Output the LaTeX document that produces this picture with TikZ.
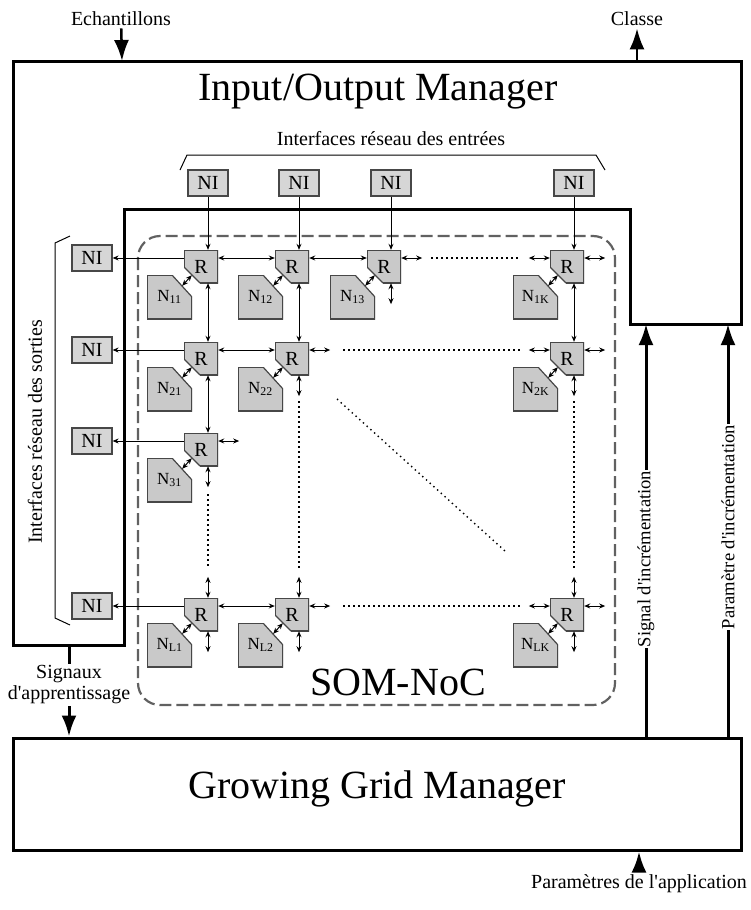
\documentclass[tikz,border=0pt]{standalone}
\usepackage{fontspec}
\setmainfont{Liberation Serif}
\usetikzlibrary{arrows.meta}

\definecolor{routergray}{gray}{0.79}
\definecolor{nigray}{gray}{0.84}
\definecolor{edgegray}{gray}{0.28}
\definecolor{dashgray}{gray}{0.38}

\newcommand{\bigfont}{\fontsize{40}{44}\selectfont}
\newcommand{\labfont}{\fontsize{20}{21}\selectfont}
\newcommand{\vlabfont}{\fontsize{18.6}{20}\selectfont}

\begin{document}
\begin{tikzpicture}[x=1pt, y=-1pt, >={Stealth[length=6pt,width=5pt]},
  ni/.style={draw=edgegray, fill=nigray, line width=1.2pt, minimum width=40pt, minimum height=26pt, inner sep=0pt, font=\fontsize{20}{20}\selectfont},
  router/.style={rectangle, fill=white, minimum width=34pt, minimum height=33pt, inner sep=0pt, font=\fontsize{20}{20}\selectfont,
    path picture={
      \fill[routergray] (path picture bounding box.north west) -- (path picture bounding box.north east) -- (path picture bounding box.south east) -- ([xshift=16pt]path picture bounding box.south west) -- ([yshift=16pt]path picture bounding box.south west) -- cycle;
      \draw[edgegray, line width=2.4pt] ([yshift=16pt]path picture bounding box.south west) -- (path picture bounding box.north west) -- (path picture bounding box.north east) -- (path picture bounding box.south east) -- ([xshift=16pt]path picture bounding box.south west);
      \draw[edgegray, line width=1.2pt] ([xshift=16pt]path picture bounding box.south west) -- ([yshift=16pt]path picture bounding box.south west);}},
  neuron/.style={rectangle, fill=white, minimum width=45pt, minimum height=44pt, inner sep=0pt, font=\fontsize{17}{17}\selectfont,
    path picture={
      \fill[routergray] (path picture bounding box.north west) -- ([xshift=-20pt]path picture bounding box.north east) -- ([yshift=-22pt]path picture bounding box.north east) -- (path picture bounding box.south east) -- (path picture bounding box.south west) -- cycle;
      \draw[edgegray, line width=2.4pt] ([xshift=-20pt]path picture bounding box.north east) -- (path picture bounding box.north west) -- (path picture bounding box.south west) -- (path picture bounding box.south east) -- ([yshift=-22pt]path picture bounding box.north east);
      \draw[edgegray, line width=1.2pt] ([xshift=-20pt]path picture bounding box.north east) -- ([yshift=-22pt]path picture bounding box.north east);}},
  link/.style={<->, line width=1pt},
  feed/.style={->, line width=1pt},
  ellip/.style={line width=1.4pt, dash pattern=on 1.4pt off 3.6pt},
  heavy/.style={line width=3pt},
  bigarrow/.style={-{Latex[length=21pt,width=15pt]}, line width=3pt},
  lh/.style={yshift=8.5pt},
  lv/.style={xshift=7pt},
  rcut/.style={xshift=8pt, yshift=8pt},
  ncut/.style={xshift=-10pt, yshift=-11pt}]
\useasboundingbox (0,0) rectangle (750,910);

% Input/Output Manager
\draw[heavy] (13,61) -- (741,61) -- (741,324) -- (630,324) -- (630,209) -- (124,209) -- (124,645) -- (13,645) -- cycle;
\node[font=\bigfont, anchor=base] (iotitle) at (378,100) {Input/Output Manager};
\node[font=\labfont, anchor=base] (inlabel) at (391,145) {Interfaces réseau des entrées};
\draw[line width=1pt] (180,170) -- (187,155) -- (596,155) -- (605,170);
\node[font=\labfont, rotate=90] (outlabel) at (35,432) {Interfaces réseau des sorties};
\draw[line width=1pt] (70,236) -- (55,243) -- (55,618) -- (70,625);

% SOM-NoC
\draw[dashgray, line width=2.2pt, dash pattern=on 12pt off 5pt, rounded corners=22pt] (138,236) rectangle (615,705);
\node[font=\bigfont, anchor=base] (noclabel) at (398,695) {SOM-NoC};

% network interfaces
\node[ni] (nii1) at (208,183) {NI};
\node[ni] (nii2) at (299,183) {NI};
\node[ni] (nii3) at (391,183) {NI};
\node[ni] (niik) at (574,183) {NI};
\node[ni] (nio1) at (92,258) {NI};
\node[ni] (nio2) at (92,350) {NI};
\node[ni] (nio3) at (92,441) {NI};
\node[ni] (niol) at (92,606) {NI};

% routers
\node[router] (r11) at (201,266.5) {R};
\node[router] (r12) at (292,266.5) {R};
\node[router] (r13) at (384,266.5) {R};
\node[router] (r1k) at (567,266.5) {R};
\node[router] (r21) at (201,358.5) {R};
\node[router] (r22) at (292,358.5) {R};
\node[router] (r2k) at (567,358.5) {R};
\node[router] (r31) at (201,449.5) {R};
\node[router] (rl1) at (201,614.5) {R};
\node[router] (rl2) at (292,614.5) {R};
\node[router] (rlk) at (567,614.5) {R};

% neurons
\node[neuron] (n11) at (169.5,297) {N\textsubscript{11}};
\node[neuron] (n12) at (260.5,297) {N\textsubscript{12}};
\node[neuron] (n13) at (352.5,297) {N\textsubscript{13}};
\node[neuron] (n1k) at (535.5,297) {N\textsubscript{1K}};
\node[neuron] (n21) at (169.5,389) {N\textsubscript{21}};
\node[neuron] (n22) at (260.5,389) {N\textsubscript{22}};
\node[neuron] (n2k) at (535.5,389) {N\textsubscript{2K}};
\node[neuron] (n31) at (169.5,480) {N\textsubscript{31}};
\node[neuron] (nl1) at (169.5,645) {N\textsubscript{L1}};
\node[neuron] (nl2) at (260.5,645) {N\textsubscript{L2}};
\node[neuron] (nlk) at (535.5,645) {N\textsubscript{LK}};

\draw[link] ([rcut]r11.south west) -- ([ncut]n11.north east);
\draw[link] ([rcut]r12.south west) -- ([ncut]n12.north east);
\draw[link] ([rcut]r13.south west) -- ([ncut]n13.north east);
\draw[link] ([rcut]r1k.south west) -- ([ncut]n1k.north east);
\draw[link] ([rcut]r21.south west) -- ([ncut]n21.north east);
\draw[link] ([rcut]r22.south west) -- ([ncut]n22.north east);
\draw[link] ([rcut]r2k.south west) -- ([ncut]n2k.north east);
\draw[link] ([rcut]r31.south west) -- ([ncut]n31.north east);
\draw[link] ([rcut]rl1.south west) -- ([ncut]nl1.north east);
\draw[link] ([rcut]rl2.south west) -- ([ncut]nl2.north east);
\draw[link] ([rcut]rlk.south west) -- ([ncut]nlk.north east);

% inputs and outputs
\draw[feed] (nii1.south) -- ([lv]r11.north);
\draw[feed] (nii2.south) -- ([lv]r12.north);
\draw[feed] (nii3.south) -- ([lv]r13.north);
\draw[feed] (niik.south) -- ([lv]r1k.north);
\draw[feed] ([lh]r11.west) -- (nio1.east);
\draw[feed] ([lh]r21.west) -- (nio2.east);
\draw[feed] ([lh]r31.west) -- (nio3.east);
\draw[feed] ([lh]rl1.west) -- (niol.east);

% links between routers
\draw[link] ([lh]r11.east) -- ([lh]r12.west);
\draw[link] ([lh]r12.east) -- ([lh]r13.west);
\draw[link] ([lh]r21.east) -- ([lh]r22.west);
\draw[link] ([lh]rl1.east) -- ([lh]rl2.west);
\draw[link] ([lv]r11.south) -- ([lv]r21.north);
\draw[link] ([lv]r12.south) -- ([lv]r22.north);
\draw[link] ([lv]r21.south) -- ([lv]r31.north);
\draw[link] ([lv]r1k.south) -- ([lv]r2k.north);

% open ports
\draw[link] ([lh]r13.east) -- ++(21,0);
\draw[link] ([lh]r1k.east) -- ++(21,0);
\draw[link] ([lh]r1k.west) -- ++(-21,0);
\draw[link] ([lh]r22.east) -- ++(21,0);
\draw[link] ([lh]r2k.east) -- ++(21,0);
\draw[link] ([lh]r2k.west) -- ++(-21,0);
\draw[link] ([lh]r31.east) -- ++(21,0);
\draw[link] ([lh]rl2.east) -- ++(21,0);
\draw[link] ([lh]rlk.east) -- ++(21,0);
\draw[link] ([lh]rlk.west) -- ++(-21,0);
\draw[link] ([lv]r13.south) -- ++(0,21);
\draw[link] ([lv]r22.south) -- ++(0,21);
\draw[link] ([lv]r2k.south) -- ++(0,21);
\draw[link] ([lv]r31.south) -- ++(0,21);
\draw[link] ([lv]rl1.south) -- ++(0,21);
\draw[link] ([lv]rl2.south) -- ++(0,21);
\draw[link] ([lv]rlk.south) -- ++(0,21);
\draw[link] ([lv]rl1.north) -- ++(0,-21);
\draw[link] ([lv]rl2.north) -- ++(0,-21);
\draw[link] ([lv]rlk.north) -- ++(0,-21);

% ellipses
\draw[ellip] ([lh,xshift=30pt]r13.east) -- ([lh,xshift=-30pt]r1k.west);
\draw[ellip] ([lh,xshift=34pt]r22.east) -- ([lh,xshift=-28pt]r2k.west);
\draw[ellip] ([lh,xshift=34pt]rl2.east) -- ([lh,xshift=-30pt]rlk.west);
\draw[ellip] ([lv,yshift=-28pt]r31.south) -- ([lv,yshift=30pt]rl1.north);
\draw[ellip] ([lv,yshift=-26pt]r22.south) -- ([lv,yshift=30pt]rl2.north);
\draw[ellip] ([lv,yshift=-26pt]r2k.south) -- ([lv,yshift=30pt]rlk.north);
\draw[ellip] (337,399) -- (505,551);

% Growing Grid Manager
\node[draw, line width=3pt, minimum width=728pt, minimum height=112pt, font=\bigfont, text height=27pt, text depth=19pt] (ggm) at (377,794) {Growing Grid Manager};

% external signals
\node[font=\labfont, anchor=base, inner sep=3pt] (ech) at (121,25) {Echantillons};
\coordinate (echin) at (122,61);
\draw[bigarrow, line width=2.5pt] (ech) -- (echin);
\node[font=\labfont, anchor=base, inner sep=3pt] (cls) at (637,25) {Classe};
\coordinate (clsout) at (637,61);
\draw[bigarrow, line width=2.5pt] (clsout) -- (cls);
\node[font=\labfont, align=center, inner sep=2pt] (sig) at (69,685) {Signaux\\d\textquotesingle apprentissage};
\coordinate (sigout) at (69,645);
\draw[heavy] (sigout) -- (sig);
\draw[bigarrow] (sig) -- (sig |- ggm.north);
\node[font=\labfont, anchor=base, inner sep=3pt] (app) at (639,888) {Paramètres de l\textquotesingle application};
\draw[bigarrow] (app) -- (app |- ggm.south);
\node[font=\vlabfont, rotate=90, inner sep=0.5pt] (inc) at (646,559) {Signal d\textquotesingle incrémentation};
\coordinate (incin) at (646,324);
\draw[heavy] (inc |- ggm.north) -- (inc);
\draw[bigarrow] (inc) -- (incin);
\node[font=\vlabfont, rotate=90, inner sep=0.5pt] (par) at (728,527) {Paramètre d\textquotesingle incrémentation};
\coordinate (parin) at (728,324);
\draw[heavy] (par |- ggm.north) -- (par);
\draw[bigarrow] (par) -- (parin);
\end{tikzpicture}
\end{document}
